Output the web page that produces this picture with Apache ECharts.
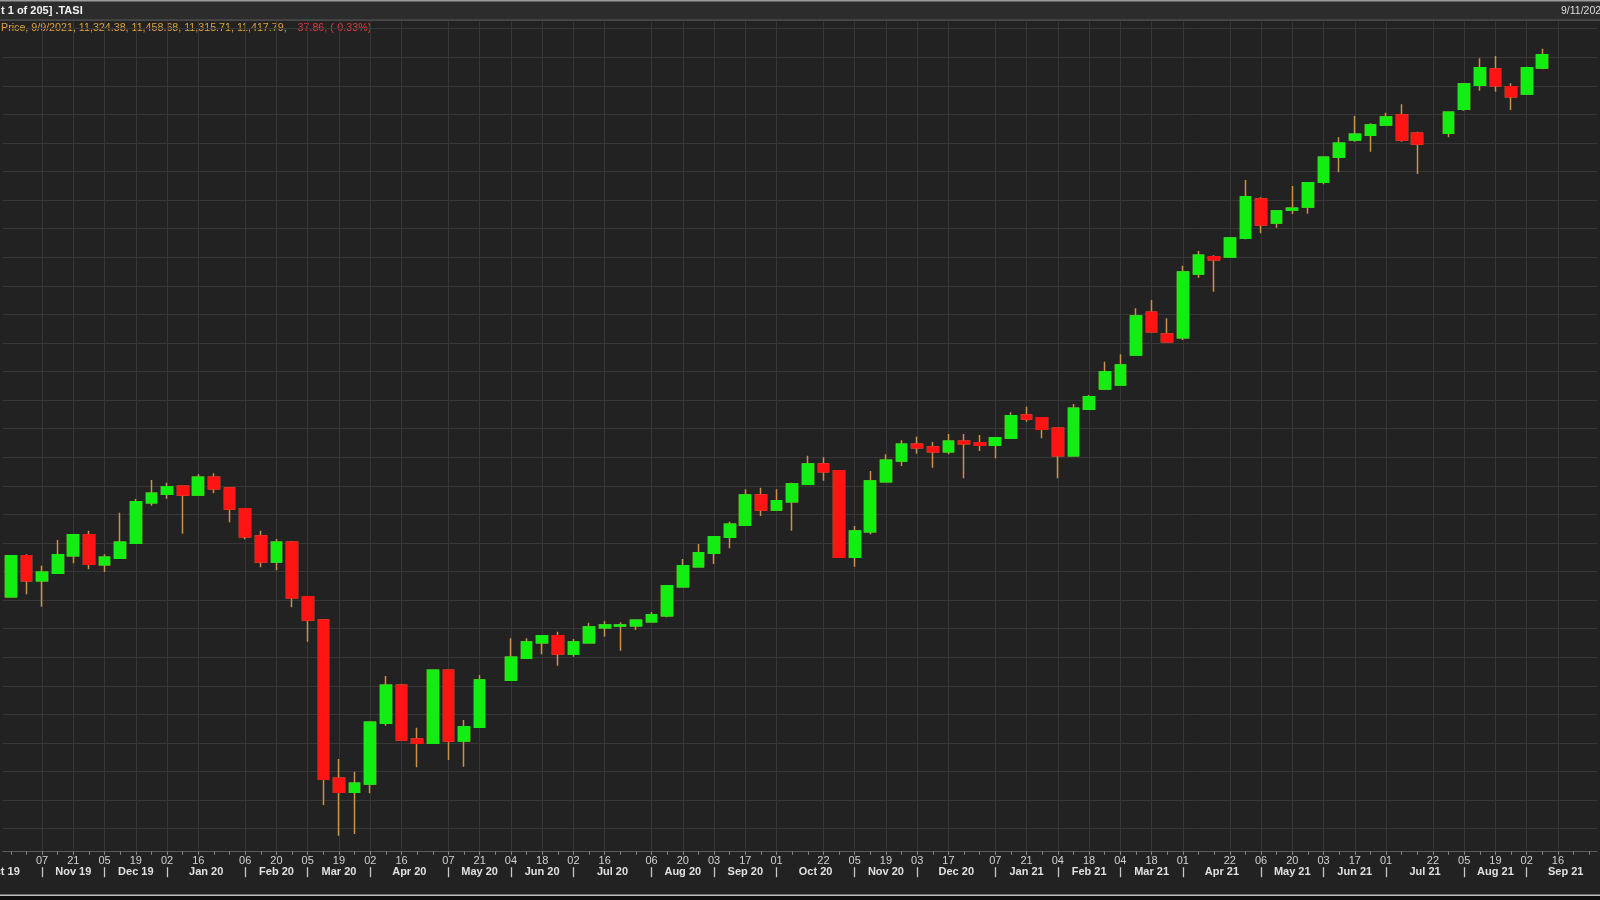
<!DOCTYPE html>
<html><head><meta charset="utf-8">
<script src="https://cdn.jsdelivr.net/npm/echarts@6/dist/echarts.min.js"></script>
<style>html,body{margin:0;padding:0;background:#222;}#c{width:1600px;height:900px;}</style>
</head><body><div id="c"></div>
<script>
// ---------- DATA ----------
const weeks = [
'2019-10-24','2019-10-31','2019-11-07','2019-11-14','2019-11-21','2019-11-28','2019-12-05','2019-12-12','2019-12-19','2019-12-26',
'2020-01-02','2020-01-09','2020-01-16','2020-01-23','2020-01-30','2020-02-06','2020-02-13','2020-02-20','2020-02-27','2020-03-05',
'2020-03-12','2020-03-19','2020-03-26','2020-04-02','2020-04-09','2020-04-16','2020-04-23','2020-04-30','2020-05-07','2020-05-14',
'2020-05-21','2020-05-28','2020-06-04','2020-06-11','2020-06-18','2020-06-25','2020-07-02','2020-07-09','2020-07-16','2020-07-23',
'2020-07-30','2020-08-06','2020-08-13','2020-08-20','2020-08-27','2020-09-03','2020-09-10','2020-09-17','2020-09-24','2020-10-01',
'2020-10-08','2020-10-15','2020-10-22','2020-10-29','2020-11-05','2020-11-12','2020-11-19','2020-11-26','2020-12-03','2020-12-10',
'2020-12-17','2020-12-24','2020-12-31','2021-01-07','2021-01-14','2021-01-21','2021-01-28','2021-02-04','2021-02-11','2021-02-18',
'2021-02-25','2021-03-04','2021-03-11','2021-03-18','2021-03-25','2021-04-01','2021-04-08','2021-04-15','2021-04-22','2021-04-29',
'2021-05-06','2021-05-13','2021-05-20','2021-05-27','2021-06-03','2021-06-10','2021-06-17','2021-06-24','2021-07-01','2021-07-08',
'2021-07-15','2021-07-22','2021-07-29','2021-08-05','2021-08-12','2021-08-19','2021-08-26','2021-09-02','2021-09-09','2021-09-16',
'2021-09-23','2021-09-30'
];
const openV = [
7624,7911,7736,7787,7911,8058,7848,7892,7997,8282,
8340,8396,8335,8459,8384,8240,8048,7866,8004,7624,
7460,6352,6254,6312,6737,7003,6627,6597,7108,6613,
6709,null,7038,7192,7302,7351,7220,7302,7407,7418,
7421,7449,7491,7694,7834,7927,8039,8123,8335,8230,
8289,8410,8552,8506,7899,8079,8429,8573,8690,8671,
8639,8711,8702,8683,8732,8895,8877,8802,8611,8935,
9077,9105,9315,9614,9462,9437,9882,10004,10001,10132,
10407,10239,10330,10351,10524,10699,10820,10853,10925,10995,
10867,null,10867,11035,11203,11317,11194,11142,11324.38,null,
null,null
];
const highV = [
7914,7920,7841,8020,8060,8086,7920,8212,8307,8440,
8422,8398,8480,8487,8386,8241,8086,8027,8013,7626,
7462,6487,6399,6746,7068,7012,6707,7110,7110,6760,
7075,null,7332,7332,7352,7379,7327,7442,7453,7444,
7460,7516,7702,7887,7992,8046,8149,8375,8387,8375,
8422,8611,8599,8507,8118,8503,8620,8718,8744,8706,
8762,8762,8755,8738,8914,8954,8878,8804,8972,9035,
9268,9320,9642,9700,9572,9941,10043,10013,10139,10540,
10419,10325,10498,10524,10701,10839,10991,10937,11012,11070,
10879,null,11016,11214,11392,11408,11217,11334,11458.68,null,
null,null
];
const lowV = [
7620,7640,7554,7785,7857,7815,7796,7890,7995,8261,
8310,8065,8333,8347,8144,8025,7829,7808,7549,7309,
6165,5951,5962,6247,6721,6618,6429,6595,6480,6434,
6707,null,7036,7190,7220,7141,7204,7300,7344,7246,
7390,7447,7479,7692,7832,7852,7962,8121,8188,8228,
8086,8408,8436,7897,7834,8060,8427,8538,8625,8527,
8620,8452,8643,8592,8730,8849,8732,8452,8609,8933,
9070,9100,9313,9477,9407,9420,9857,9759,10000,10125,
10167,10207,10302,10305,10510,10594,10809,10739,10923,10809,
10582,null,10839,11026,11166,11159,11030,11135,11315.71,null,
null,null
];
const closeV = [
7911,7736,7794,7918,8058,7850,7899,8004,8289,8347,
8394,8335,8459,8380,8237,8044,7866,8004,7617,7460,
6345,6254,6317,6744,7003,6620,6597,7108,6613,6714,
7040,null,7199,7306,7351,7222,7306,7411,7425,7425,
7458,7498,7701,7841,7932,8044,8130,8335,8230,8296,
8412,8552,8499,7899,8083,8433,8578,8690,8667,8639,
8711,8695,8683,8737,8891,8867,8795,8611,8942,9024,
9198,9245,9588,9479,9409,9896,10013,9983,10134,10424,
10225,10323,10342,10522,10699,10797,10860,10925,10981,10820,
10792,null,11014,11212,11327,11201,11124,11327,11417.79,null,
null,null
];
// weeks that carry a day-number label on the axis
const dayLabelWeeks = [
'2019-11-07','2019-11-21','2019-12-05','2019-12-19','2020-01-02','2020-01-16','2020-02-06','2020-02-20','2020-03-05','2020-03-19',
'2020-04-02','2020-04-16','2020-05-07','2020-05-21','2020-06-04','2020-06-18','2020-07-02','2020-07-16','2020-08-06','2020-08-20',
'2020-09-03','2020-09-17','2020-10-01','2020-10-22','2020-11-05','2020-11-19','2020-12-03','2020-12-17','2021-01-07','2021-01-21',
'2021-02-04','2021-02-18','2021-03-04','2021-03-18','2021-04-01','2021-04-22','2021-05-06','2021-05-20','2021-06-03','2021-06-17',
'2021-07-01','2021-07-22','2021-08-05','2021-08-19','2021-09-02','2021-09-16'
];
// first labelled week of each month (month separators)
const monthBounds = [
'2019-10-03','2019-11-07','2019-12-05','2020-01-02','2020-02-06','2020-03-05','2020-04-02','2020-05-07','2020-06-04','2020-07-02',
'2020-08-06','2020-09-03','2020-10-01','2020-11-05','2020-12-03','2021-01-07','2021-02-04','2021-03-04','2021-04-01','2021-05-06',
'2021-06-03','2021-07-01','2021-08-05','2021-09-02','2021-10-07'
];
const monthNames = [
'Oct 19','Nov 19','Dec 19','Jan 20','Feb 20','Mar 20','Apr 20','May 20','Jun 20','Jul 20','Aug 20','Sep 20',
'Oct 20','Nov 20','Dec 20','Jan 21','Feb 21','Mar 21','Apr 21','May 21','Jun 21','Jul 21','Aug 21','Sep 21'
];
const headerTitle = 't 1 of 205] .TASI';
const headerDate = '9/11/2021';
const legendMain = 'Price, 9/9/2021, 11,324.38, 11,458.68, 11,315.71, 11,417.79,';
const legendChange = '-37.86, (-0.33%)';
const yMin = 5800, yMax = 11650, yStep = 200;

// ---------- BUILD ----------
const N = weeks.length;
const t0 = Date.parse(weeks[0]);
const weekIdx = d => Math.round((Date.parse(d) - t0) / (7 * 864e5));
const daySet = new Set(dayLabelWeeks);
const halfSlots = Array.from({length: 2 * N + 1}, (_, k) => 'h' + k);
const gridK = new Set(dayLabelWeeks.map(d => 2 * weekIdx(d) + 1));
const sepK = new Set(monthBounds.map(d => 2 * weekIdx(d) + 1).filter(k => k >= 0 && k <= 2 * N));
const monthLabelAt = {};
monthNames.forEach((m, i) => {
  const k = weekIdx(monthBounds[i]) + weekIdx(monthBounds[i + 1]) + 1;
  if (k >= 0 && k <= 2 * N) monthLabelAt[k] = m;
});
const wickData = [], bodyData = [];
for (let i = 0; i < N; i++) {
  if (openV[i] == null) { wickData.push(['-','-','-','-']); bodyData.push(['-','-','-','-']); continue; }
  wickData.push([openV[i], closeV[i], lowV[i], highV[i]]);
  bodyData.push([openV[i], closeV[i], Math.min(openV[i], closeV[i]), Math.max(openV[i], closeV[i])]);
}
const FONT = '"Liberation Sans", "DejaVu Sans", sans-serif';
const GREEN = '#12ee12', RED = '#ff1414', WICK = '#cc914a', GRIDC = '#373737';

const chart = echarts.init(document.getElementById('c'), null, {renderer: 'canvas'});
chart.setOption({
  animation: false,
  backgroundColor: '#222222',
  grid: {left: 3, right: 3, top: 21.5, bottom: 42.8, containLabel: false, outerBoundsMode: 'none'},
  xAxis: [
    {
      type: 'category', data: weeks, boundaryGap: true, position: 'bottom', offset: -5.5,
      axisLine: {show: true, lineStyle: {color: '#5c5c5c', width: 1}},
      axisTick: {show: true, alignWithLabel: true, interval: 0, length: 3, lineStyle: {color: '#8a8a8a'}},
      axisLabel: {
        interval: (i, v) => daySet.has(v), formatter: v => v.slice(8, 10),
        color: '#d2d2d2', fontSize: 11, fontFamily: FONT, margin: 4
      },
      splitLine: {show: false}
    },
    {
      type: 'category', data: halfSlots, boundaryGap: false, position: 'bottom',
      axisLine: {show: false}, axisTick: {show: false}, axisLabel: {show: false},
      splitLine: {show: true, interval: (k) => gridK.has(k), lineStyle: {color: GRIDC, width: 1}}
    },
    {
      type: 'category', data: halfSlots, boundaryGap: false, position: 'bottom', offset: 10,
      axisLine: {show: false},
      axisTick: {show: true, interval: (k) => sepK.has(k), length: 10, lineStyle: {color: '#c8c8c8', width: 1.3}},
      axisLabel: {
        interval: (k) => monthLabelAt[k] !== undefined, formatter: (v, k) => monthLabelAt[k] || '',
        color: '#e0e0e0', fontSize: 11, fontWeight: 'bold', fontFamily: FONT, margin: -1
      },
      splitLine: {show: false}
    }
  ],
  yAxis: {
    type: 'value', min: yMin, max: yMax, interval: yStep, scale: false,
    axisLine: {show: false}, axisTick: {show: false}, axisLabel: {show: false},
    splitLine: {show: true, showMinLine: false, showMaxLine: false, lineStyle: {color: GRIDC, width: 1}}
  },
  series: [
    {
      type: 'candlestick', xAxisIndex: 0, yAxisIndex: 0, data: wickData, barWidth: 11.2,
      itemStyle: {color: WICK, color0: WICK, borderColor: WICK, borderColor0: WICK, borderWidth: 1.5}
    },
    {
      type: 'candlestick', xAxisIndex: 0, yAxisIndex: 0, data: bodyData, barWidth: 11.2,
      itemStyle: {color: GREEN, color0: RED, borderColor: GREEN, borderColor0: RED, borderWidth: 1.5}
    }
  ],
  graphic: [
    {type: 'rect', shape: {x: 0, y: 0, width: 1600, height: 20}, style: {fill: '#2c2c2c'}, silent: true},
    {type: 'rect', shape: {x: 0, y: 0, width: 1600, height: 1.5}, style: {fill: '#9a9a9a'}, silent: true},
    {type: 'rect', shape: {x: 0, y: 19.5, width: 1600, height: 1.2}, style: {fill: '#575757'}, silent: true},
    {type: 'text', x: 1, y: 11, style: {text: headerTitle, fill: '#f2f2f2', fontSize: 11, fontWeight: 'bold', fontFamily: FONT, verticalAlign: 'middle'}, silent: true},
    {type: 'text', x: 1561, y: 11, style: {text: headerDate, fill: '#dcdcdc', fontSize: 10.5, fontFamily: FONT, verticalAlign: 'middle'}, silent: true},
    {type: 'text', x: 1, y: 28.5, silent: true,
      style: {text: legendMain, fill: '#e2a03a', fontSize: 10.7, fontFamily: FONT, verticalAlign: 'middle'}},
    {type: 'text', x: 294, y: 28.5, silent: true,
      style: {text: legendChange, fill: '#e23c3c', fontSize: 10.7, fontFamily: FONT, verticalAlign: 'middle'}},
    {type: 'rect', shape: {x: 0, y: 894.5, width: 1600, height: 1.5}, style: {fill: '#bdbdbd'}, silent: true},
    {type: 'rect', shape: {x: 0, y: 896, width: 1600, height: 4}, style: {fill: '#0e0e0e'}, silent: true}
  ]
});
</script>
</body></html>
